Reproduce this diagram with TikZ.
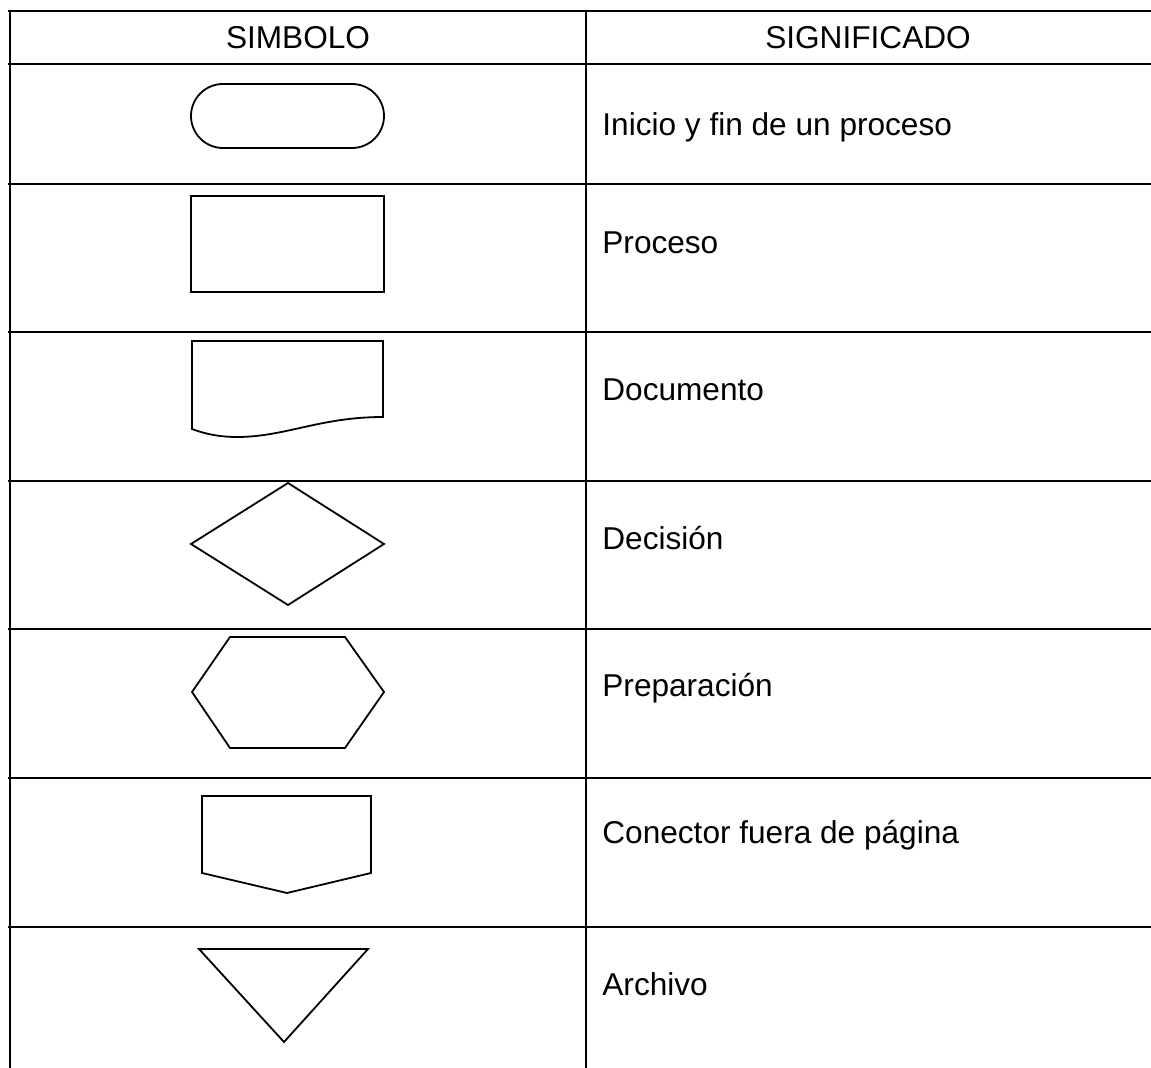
\documentclass[tikz,border=0pt]{standalone}
\usepackage{fontspec}
\setmainfont{Liberation Sans}
\usetikzlibrary{positioning}

\tikzset{
	grid/.style={line width=1.15pt},
	symb/.style={line width=0.9pt,line join=miter},
	head/.style={font=\fontsize{15.8}{18}\selectfont,inner sep=0pt},
	meaning/.style={font=\fontsize{15.8}{18}\selectfont,inner sep=0pt,anchor=west}
}

\begin{document}
\begin{tikzpicture}[x=0.5pt,y=-0.5pt]
\useasboundingbox (0,0) rectangle (1151,1068);

% rejilla de la tabla
\foreach \yy in {11,64,184,332,481,629,778,927}
	\draw[grid] (8,\yy) -- (1151,\yy);
\draw[grid] (10,11) -- (10,1068);
\draw[grid] (586,11) -- (586,1068);

% cabecera
\node[head]   (simb)      at (298,38)   {SIMBOLO};
\node[head]   (signif)    at (868,38)   {SIGNIFICADO};

% significados
\node[meaning]   (t1)   at (602,127)   {Inicio y fin de un proceso};
\node[meaning]   (t2)   at (602,243)   {Proceso};
\node[meaning]   (t3)   at (602,390)   {Documento};
\node[meaning]   (t4)   at (602,538)   {Decisión};
\node[meaning]   (t5)   at (602,688)   {Preparación};
\node[meaning]   (t6)   at (602,835)   {Conector fuera de página};
\node[meaning]   (t7)   at (602,984)   {Archivo};

% simbolos
\draw[symb,rounded corners=16pt] (191,84) rectangle (384,148);
\draw[symb] (191,196) rectangle (384,292);
\draw[symb] (192,341) -- (383,341) -- (383,417)
	.. controls (320,417) and (285,437) .. (237,437)
	.. controls (215,437) and (200,432) .. (192,429) -- cycle;
\draw[symb] (191,544) -- (288,483) -- (384,544) -- (288,605) -- cycle;
\draw[symb] (192,692) -- (230,637) -- (345,637) -- (384,692) -- (345,748) -- (230,748) -- cycle;
\draw[symb] (202,796) -- (371,796) -- (371,873) -- (287,893) -- (202,873) -- cycle;
\draw[symb] (199,949) -- (368,949) -- (284,1042) -- cycle;

\end{tikzpicture}
\end{document}
